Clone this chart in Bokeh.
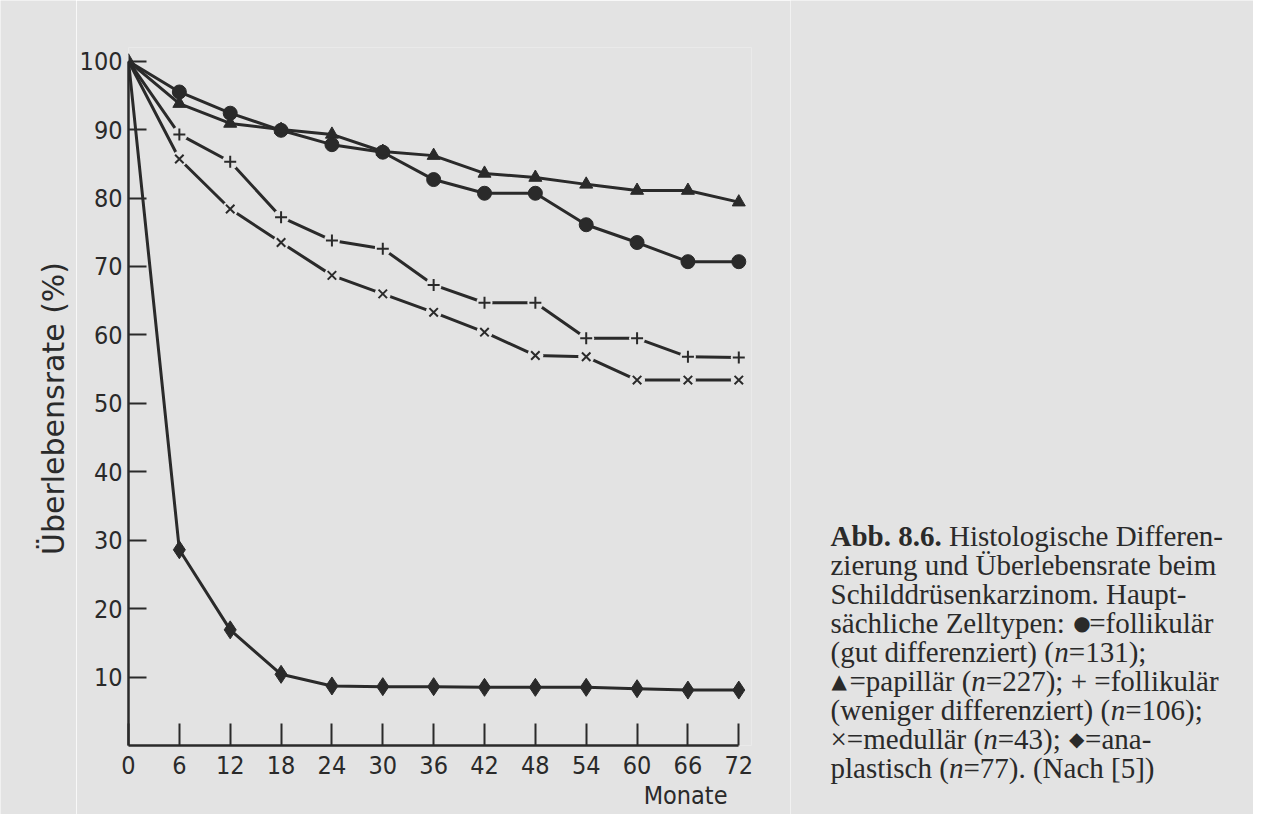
import math
from bokeh.plotting import figure
from bokeh.models import Range1d, FixedTicker, Title
from bokeh.layouts import row, column
from bokeh.core.properties import value
from bokeh.embed import file_html
from bokeh.resources import INLINE

# ---------------- data ----------------
months = [0, 6, 12, 18, 24, 30, 36, 42, 48, 54, 60, 66, 72]
follikulaer_gut = [100, 95.5, 92.4, 89.9, 87.8, 86.7, 82.7, 80.7, 80.7, 76.1, 73.5, 70.7, 70.7]
papillaer = [100, 93.8, 90.9, 90.0, 89.3, 86.8, 86.2, 83.6, 83.0, 82.0, 81.1, 81.1, 79.4]
follikulaer_weniger = [100, 89.3, 85.3, 77.2, 73.8, 72.6, 67.3, 64.7, 64.7, 59.5, 59.5, 56.8, 56.7]
medullaer = [100, 85.7, 78.4, 73.5, 68.7, 66.0, 63.3, 60.4, 57.0, 56.8, 53.4, 53.4, 53.4]
anaplastisch = [100, 28.6, 16.9, 10.4, 8.7, 8.6, 8.6, 8.5, 8.5, 8.5, 8.3, 8.1, 8.1]
y_ticks = [10, 20, 30, 40, 50, 60, 70, 80, 90, 100]
x_title = "Monate"
y_title = "Überlebensrate (%)"

PAPER = "#e3e3e3"
INK = "#2a2a2a"
SANS = "DejaVu Sans Condensed, DejaVu Sans"
SERIF = "Liberation Serif"

TOTAL_W = 1253
TOTAL_H = 814
LEFT_W = 76
CHART_W = 790 - LEFT_W
X_END = 73.5


def blank_figure(w, h, flip=True):
    yr = Range1d(h, 0) if flip else Range1d(0, h)
    f = figure(width=w, height=h, x_range=Range1d(0, w), y_range=yr,
               output_backend="svg", toolbar_location=None, x_axis_type=None, y_axis_type=None,
               min_border=0, min_border_left=0, min_border_right=0, min_border_top=0,
               min_border_bottom=0, background_fill_color=PAPER, border_fill_color=PAPER)
    f.outline_line_color = None
    f.grid.visible = False
    return f


# ---------------- left strip with the y-axis title ----------------
left = blank_figure(LEFT_W, TOTAL_H, flip=False)
left.text(x=[53], y=[TOTAL_H - 408], text=[y_title], angle=math.pi / 2,
          text_font=value("DejaVu Sans"), text_font_size=value("30px"), text_color=INK,
          text_align=value("center"), text_baseline=value("middle"))

# ---------------- chart ----------------
p = figure(width=CHART_W, height=TOTAL_H, x_range=Range1d(0, X_END), y_range=Range1d(0, 102),
           output_backend="svg", toolbar_location=None,
           min_border_left=128 - LEFT_W, min_border_right=39, min_border_top=47, min_border_bottom=69,
           background_fill_color=PAPER, border_fill_color=PAPER)
p.outline_line_color = None
p.grid.visible = False

for ax in (p.xaxis[0], p.yaxis[0]):
    ax.axis_line_color = INK
    ax.axis_line_width = 2.5
    ax.major_tick_line_color = INK
    ax.major_tick_line_width = 2
    ax.major_tick_out = 0
    ax.minor_tick_line_color = None
    ax.major_label_text_font = SANS
    ax.major_label_text_font_size = "25px"
    ax.major_label_text_color = INK

p.xaxis.ticker = FixedTicker(ticks=months)
p.xaxis.bounds = (0, 72)
p.xaxis.major_tick_in = 22
p.xaxis.major_label_standoff = 10

p.yaxis.ticker = FixedTicker(ticks=y_ticks)
p.yaxis.bounds = (0, 100)
p.yaxis.major_tick_in = 18
p.yaxis.major_label_standoff = 6

xt = Title(text=x_title, align="right", offset=24, text_font=SANS, text_font_size="25px",
           text_font_style="normal", text_color=INK)
try:
    xt.standoff = 4
except (AttributeError, ValueError):
    pass
p.add_layout(xt, "below")

LW = 3
for ys in (follikulaer_gut, papillaer, follikulaer_weniger, medullaer, anaplastisch):
    p.line(months, ys, line_color=INK, line_width=LW)

# small gaps in the line around + and x markers
for ys in (follikulaer_weniger, medullaer):
    p.scatter(months[1:], ys[1:], marker="circle", size=16, fill_color=PAPER, line_color=None)

p.scatter(months[1:], follikulaer_gut[1:], marker="circle", size=14, fill_color=INK, line_color=INK)
p.scatter(months, papillaer, marker="triangle", size=13, fill_color=INK, line_color=INK)
p.scatter(months[1:], follikulaer_weniger[1:], marker="cross", size=12, line_color=INK, line_width=2)
p.scatter(months[1:], medullaer[1:], marker="x", size=12, line_color=INK, line_width=2)
p.scatter(months[1:], anaplastisch[1:], marker="diamond", size=18, fill_color=INK, line_color=INK)

# ---------------- caption ----------------
cap = blank_figure(TOTAL_W - 790, TOTAL_H)
FS = 29
REG = dict(a=444, b=500, c=444, d=500, e=444, f=333, g=500, h=500, i=278, j=278, k=500,
           l=278, m=778, n=500, o=500, p=500, q=500, r=333, s=389, t=278, u=500, v=500,
           w=722, x=500, y=500, z=444, H=722, D=722, S=556, Z=611, N=722, A=722)
REG.update({"Ü": 722, "ä": 444, "ü": 500, "(": 333, ")": 333, ";": 278, ".": 250,
            "=": 564, "+": 564, "-": 333, ":": 278, "[": 333, "]": 333, "×": 564, " ": 250})
BOLD = {"A": 722, "b": 556, ".": 250, " ": 250}


def text_width(s, style):
    table = BOLD if style == "b" else REG
    return sum(table.get(c, 500) for c in s) / 1000.0 * FS


caption_lines = [
    [("Abb. 8.6.", "b"), (" Histologische Differen-", "r")],
    [("zierung und Überlebensrate beim", "r")],
    [("Schilddrüsenkarzinom. Haupt-", "r")],
    [("sächliche Zelltypen: ", "r"), ("●", "sym"), ("=follikulär", "r")],
    [("(gut differenziert) (", "r"), ("n", "i"), ("=131);", "r")],
    [("▲", "sym"), ("=papillär (", "r"), ("n", "i"), ("=227); + =follikulär", "r")],
    [("(weniger differenziert) (", "r"), ("n", "i"), ("=106);", "r")],
    [("×=medullär (", "r"), ("n", "i"), ("=43); ", "r"), ("◆", "sym"), ("=ana-", "r")],
    [("plastisch (", "r"), ("n", "i"), ("=77). (Nach [5])", "r")],
]
SYM_ADV = {"●": 17, "▲": 19, "◆": 17}

CAP_X = 830 - 790
CAP_Y0 = 535
CAP_DY = 29.1
groups = {st: dict(x=[], y=[], t=[]) for st in ("r", "b", "i", "sym")}
for k, segs in enumerate(caption_lines):
    off = 0.0
    y = CAP_Y0 + k * CAP_DY
    for txt, st in segs:
        if st == "sym":
            groups[st]["x"].append(CAP_X + off + 1)
            groups[st]["y"].append(y)
            groups[st]["t"].append(txt)
            off += SYM_ADV[txt]
            continue
        lead = len(txt) - len(txt.lstrip(" "))
        off += text_width(txt[:lead], st)
        body = txt[lead:]
        groups[st]["x"].append(CAP_X + off)
        groups[st]["y"].append(y)
        groups[st]["t"].append(body)
        off += text_width(body, st)

for st, style in (("r", "normal"), ("b", "bold"), ("i", "italic")):
    g = groups[st]
    cap.text(x=g["x"], y=g["y"], text=g["t"], text_font=value(SERIF), text_font_size=value(f"{FS}px"),
             text_font_style=value(style), text_color=INK, text_baseline=value("alphabetic"))
g = groups["sym"]
cap.text(x=g["x"], y=g["y"], text=g["t"], text_font=value("DejaVu Sans"), text_font_size=value("20px"),
         text_color=INK, text_baseline=value("alphabetic"))

layout = row(left, column(p), cap)
open("out.html", "w").write(file_html(layout, INLINE))
